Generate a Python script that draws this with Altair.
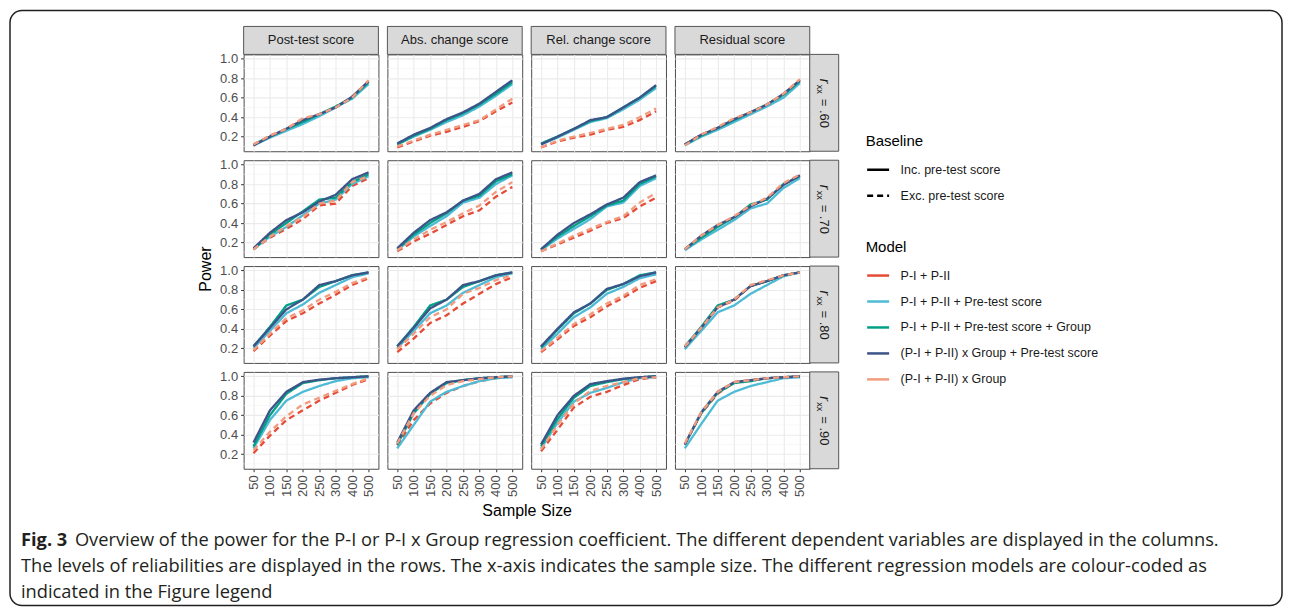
import altair as alt
import pandas as pd

SAMPLE_SIZES = [50, 100, 150, 200, 250, 300, 400, 500]
MODELS = [
    "P-I + P-II",
    "P-I + P-II + Pre-test score",
    "P-I + P-II + Pre-test score + Group",
    "(P-I + P-II) x Group + Pre-test score",
    "(P-I + P-II) x Group",
]
BASELINE_OF_MODEL = [
    "Exc. pre-test score",
    "Inc. pre-test score",
    "Inc. pre-test score",
    "Inc. pre-test score",
    "Exc. pre-test score",
]
BASELINES = ["Inc. pre-test score", "Exc. pre-test score"]
COLORS = ["#E64B35", "#4DBBD5", "#00A087", "#3C5488", "#F39B7F"]
DEPVARS = ["Post-test score", "Abs. change score", "Rel. change score", "Residual score"]
RELIAB = [".60", ".70", ".80", ".90"]
Y_TICKS = [0.2, 0.4, 0.6, 0.8, 1.0]
Y_MINOR = [0.1, 0.3, 0.5, 0.7, 0.9]

# power values, one list per model (order of MODELS), one value per sample size
post_60 = [
    [0.11, 0.21, 0.28, 0.38, 0.42, 0.50, 0.61, 0.77],
    [0.11, 0.19, 0.26, 0.33, 0.41, 0.50, 0.59, 0.74],
    [0.12, 0.20, 0.28, 0.35, 0.43, 0.51, 0.60, 0.76],
    [0.11, 0.20, 0.28, 0.37, 0.43, 0.50, 0.61, 0.77],
    [0.12, 0.21, 0.28, 0.39, 0.43, 0.50, 0.60, 0.78],
]
abs_60 = [
    [0.09, 0.15, 0.21, 0.25, 0.30, 0.36, 0.46, 0.55],
    [0.12, 0.20, 0.27, 0.35, 0.42, 0.51, 0.62, 0.74],
    [0.12, 0.21, 0.28, 0.37, 0.44, 0.53, 0.64, 0.76],
    [0.13, 0.22, 0.29, 0.38, 0.45, 0.54, 0.66, 0.78],
    [0.10, 0.16, 0.22, 0.27, 0.32, 0.37, 0.48, 0.59],
]
rel_60 = [
    [0.09, 0.15, 0.19, 0.22, 0.27, 0.30, 0.37, 0.46],
    [0.12, 0.19, 0.27, 0.35, 0.39, 0.48, 0.58, 0.70],
    [0.13, 0.20, 0.28, 0.36, 0.40, 0.50, 0.60, 0.72],
    [0.12, 0.20, 0.28, 0.37, 0.40, 0.50, 0.60, 0.73],
    [0.09, 0.16, 0.20, 0.24, 0.28, 0.32, 0.40, 0.49],
]
res_60 = [
    [0.12, 0.22, 0.29, 0.38, 0.45, 0.53, 0.63, 0.78],
    [0.11, 0.20, 0.27, 0.35, 0.43, 0.51, 0.60, 0.75],
    [0.12, 0.21, 0.29, 0.37, 0.45, 0.53, 0.63, 0.77],
    [0.12, 0.22, 0.29, 0.38, 0.45, 0.53, 0.64, 0.78],
    [0.11, 0.22, 0.30, 0.39, 0.45, 0.53, 0.64, 0.79],
]
post_70 = [
    [0.13, 0.25, 0.34, 0.44, 0.58, 0.60, 0.78, 0.86],
    [0.13, 0.26, 0.36, 0.48, 0.60, 0.64, 0.80, 0.88],
    [0.13, 0.28, 0.40, 0.52, 0.64, 0.66, 0.82, 0.90],
    [0.14, 0.30, 0.43, 0.51, 0.62, 0.69, 0.85, 0.92],
    [0.13, 0.26, 0.37, 0.46, 0.60, 0.63, 0.82, 0.88],
]
abs_70 = [
    [0.11, 0.21, 0.29, 0.38, 0.47, 0.53, 0.67, 0.77],
    [0.12, 0.26, 0.37, 0.47, 0.61, 0.66, 0.80, 0.89],
    [0.13, 0.28, 0.40, 0.50, 0.63, 0.68, 0.83, 0.90],
    [0.14, 0.30, 0.43, 0.51, 0.63, 0.70, 0.85, 0.92],
    [0.12, 0.23, 0.33, 0.41, 0.50, 0.58, 0.72, 0.82],
]
rel_70 = [
    [0.11, 0.18, 0.25, 0.32, 0.40, 0.45, 0.57, 0.66],
    [0.12, 0.24, 0.34, 0.44, 0.57, 0.61, 0.78, 0.86],
    [0.13, 0.26, 0.37, 0.47, 0.58, 0.63, 0.80, 0.88],
    [0.13, 0.28, 0.40, 0.49, 0.59, 0.66, 0.82, 0.89],
    [0.11, 0.19, 0.27, 0.34, 0.41, 0.47, 0.61, 0.71],
]
res_70 = [
    [0.13, 0.26, 0.37, 0.46, 0.58, 0.65, 0.80, 0.89],
    [0.12, 0.23, 0.33, 0.43, 0.55, 0.60, 0.76, 0.86],
    [0.13, 0.25, 0.36, 0.46, 0.59, 0.64, 0.80, 0.88],
    [0.13, 0.27, 0.38, 0.46, 0.57, 0.65, 0.79, 0.89],
    [0.13, 0.27, 0.38, 0.47, 0.58, 0.66, 0.81, 0.90],
]
post_80 = [
    [0.17, 0.33, 0.48, 0.56, 0.66, 0.75, 0.85, 0.92],
    [0.20, 0.38, 0.56, 0.65, 0.77, 0.85, 0.93, 0.97],
    [0.22, 0.42, 0.64, 0.70, 0.83, 0.89, 0.95, 0.98],
    [0.22, 0.41, 0.60, 0.70, 0.85, 0.89, 0.95, 0.98],
    [0.18, 0.35, 0.51, 0.59, 0.70, 0.78, 0.87, 0.93],
]
abs_80 = [
    [0.16, 0.30, 0.46, 0.54, 0.66, 0.76, 0.86, 0.93],
    [0.20, 0.38, 0.56, 0.64, 0.77, 0.85, 0.93, 0.97],
    [0.22, 0.42, 0.64, 0.70, 0.83, 0.89, 0.95, 0.98],
    [0.22, 0.41, 0.61, 0.70, 0.85, 0.89, 0.95, 0.98],
    [0.19, 0.35, 0.52, 0.60, 0.76, 0.82, 0.90, 0.95],
]
rel_80 = [
    [0.16, 0.29, 0.43, 0.52, 0.63, 0.72, 0.82, 0.89],
    [0.19, 0.35, 0.52, 0.62, 0.76, 0.83, 0.92, 0.96],
    [0.21, 0.39, 0.56, 0.66, 0.80, 0.86, 0.95, 0.98],
    [0.22, 0.40, 0.57, 0.66, 0.81, 0.86, 0.94, 0.98],
    [0.17, 0.31, 0.45, 0.55, 0.66, 0.74, 0.85, 0.91],
]
res_80 = [
    [0.21, 0.41, 0.62, 0.69, 0.84, 0.89, 0.95, 0.98],
    [0.19, 0.38, 0.57, 0.64, 0.76, 0.85, 0.94, 0.98],
    [0.22, 0.42, 0.64, 0.70, 0.84, 0.89, 0.95, 0.98],
    [0.21, 0.41, 0.62, 0.70, 0.84, 0.89, 0.95, 0.98],
    [0.22, 0.41, 0.62, 0.70, 0.85, 0.90, 0.95, 0.98],
]
post_90 = [
    [0.21, 0.39, 0.55, 0.65, 0.75, 0.83, 0.91, 0.97],
    [0.26, 0.55, 0.75, 0.84, 0.90, 0.95, 0.98, 0.99],
    [0.28, 0.60, 0.82, 0.93, 0.96, 0.98, 0.99, 1.00],
    [0.32, 0.65, 0.84, 0.94, 0.965, 0.98, 0.99, 1.00],
    [0.24, 0.43, 0.59, 0.71, 0.78, 0.85, 0.92, 0.98],
]
abs_90 = [
    [0.29, 0.55, 0.72, 0.83, 0.90, 0.95, 0.98, 1.00],
    [0.26, 0.50, 0.74, 0.84, 0.90, 0.95, 0.98, 0.99],
    [0.30, 0.62, 0.82, 0.93, 0.96, 0.98, 0.99, 1.00],
    [0.32, 0.65, 0.83, 0.94, 0.96, 0.98, 0.99, 1.00],
    [0.31, 0.62, 0.80, 0.91, 0.95, 0.97, 0.99, 1.00],
]
rel_90 = [
    [0.23, 0.45, 0.68, 0.79, 0.84, 0.91, 0.97, 0.99],
    [0.26, 0.52, 0.74, 0.83, 0.88, 0.94, 0.98, 0.99],
    [0.28, 0.56, 0.78, 0.90, 0.94, 0.97, 0.99, 1.00],
    [0.30, 0.60, 0.80, 0.92, 0.95, 0.975, 0.99, 1.00],
    [0.25, 0.50, 0.72, 0.85, 0.90, 0.94, 0.98, 0.99],
]
res_90 = [
    [0.30, 0.62, 0.82, 0.94, 0.96, 0.98, 0.99, 1.00],
    [0.26, 0.51, 0.75, 0.84, 0.90, 0.94, 0.98, 0.99],
    [0.30, 0.62, 0.83, 0.93, 0.95, 0.98, 0.99, 1.00],
    [0.30, 0.63, 0.84, 0.94, 0.96, 0.98, 0.99, 1.00],
    [0.31, 0.63, 0.84, 0.94, 0.96, 0.98, 0.99, 1.00],
]

PANELS = [
    [post_60, abs_60, rel_60, res_60],
    [post_70, abs_70, rel_70, res_70],
    [post_80, abs_80, rel_80, res_80],
    [post_90, abs_90, rel_90, res_90],
]

CAPTION_BOLD = "Fig. 3"
CAPTION_LINES = [
    "Overview of the power for the P-I or P-I x Group regression coefficient. The different dependent variables are displayed in the columns.",
    "The levels of reliabilities are displayed in the rows. The x-axis indicates the sample size. The different regression models are colour-coded as",
    "indicated in the Figure legend",
]

FONT = "Liberation Sans"
CAP_FONT = "Open Sans"
W, H = 135, 97
STRIP = 28
STRIP_R = 29

records = []
for ri, rel in enumerate(RELIAB):
    for ci, dv in enumerate(DEPVARS):
        series = PANELS[ri][ci]
        for mi, m in enumerate(MODELS):
            for n, p in zip(SAMPLE_SIZES, series[mi]):
                records.append({"rel": rel, "dv": dv, "model": m,
                                "baseline": BASELINE_OF_MODEL[mi], "n": n, "power": p})
df = pd.DataFrame(records)
minor_df = pd.DataFrame({"power": Y_MINOR})
one = pd.DataFrame({"k": [0]})

legend_common = dict(orient="none", symbolType="stroke", symbolSize=484, symbolStrokeWidth=2.5,
                     rowPadding=7, labelOffset=10, titlePadding=8, labelLimit=400)
color_enc = alt.Color(
    "model:N",
    scale=alt.Scale(domain=MODELS, range=COLORS),
    legend=alt.Legend(title="Model", legendX=623, legendY=186, **legend_common),
)
dash_enc = alt.StrokeDash(
    "baseline:N",
    scale=alt.Scale(domain=BASELINES, range=[[1, 0], [6, 4]]),
    legend=alt.Legend(title="Baseline", legendX=623, legendY=80,
                      symbolStrokeColor="black", **legend_common),
)


def panel(ri, ci):
    sub = df[(df.rel == RELIAB[ri]) & (df.dv == DEPVARS[ci])]
    left = ci == 0
    bottom = ri == 3
    yaxis = alt.Axis(values=Y_TICKS, format=".1f", labels=left, ticks=left,
                     domain=False, grid=True, title=None, labelPadding=3)
    xaxis = alt.Axis(labels=bottom, ticks=bottom, domain=False, grid=True,
                     title=None, labelAngle=270, labelPadding=3)
    yenc = alt.Y("power:Q", scale=alt.Scale(domain=[0.05, 1.045], nice=False, zero=False),
                 axis=yaxis)
    xenc = alt.X("n:O", scale=alt.Scale(type="point", padding=0.6), axis=xaxis)

    layers = [
        alt.Chart(minor_df).mark_rule(color="#F1F1F1", strokeWidth=0.6).encode(
            y=yenc, x=alt.value(0), x2=alt.value(W))
    ]
    for m in MODELS:
        layers.append(
            alt.Chart(sub).transform_filter(alt.datum.model == m)
            .mark_line(strokeWidth=2.3)
            .encode(x=xenc, y=yenc, color=color_enc, strokeDash=dash_enc)
        )
    if ri == 0:
        lab = pd.DataFrame({"label": [DEPVARS[ci]]})
        layers.append(alt.Chart(lab).mark_rect(fill="#D9D9D9", stroke="#555555", strokeWidth=1)
                      .encode(x=alt.value(0), x2=alt.value(W), y=alt.value(-STRIP), y2=alt.value(0)))
        layers.append(alt.Chart(lab).mark_text(font=FONT, fontSize=13, color="#1A1A1A")
                      .encode(x=alt.value(W / 2), y=alt.value(-STRIP / 2), text="label:N"))
    if ci == 3:
        lab = pd.DataFrame({"r": ["r"], "sub": ["xx"], "rest": ["= " + RELIAB[ri]]})
        layers.append(alt.Chart(lab).mark_rect(fill="#D9D9D9", stroke="#555555", strokeWidth=1)
                      .encode(x=alt.value(W), x2=alt.value(W + STRIP_R), y=alt.value(0), y2=alt.value(H)))
        layers.append(alt.Chart(lab).mark_text(font=FONT, fontSize=14, fontStyle="italic",
                                               color="#1A1A1A", angle=90, align="left",
                                               baseline="alphabetic")
                      .encode(x=alt.value(W + 10), y=alt.value(H / 2 - 24), text="r:N"))
        layers.append(alt.Chart(lab).mark_text(font=FONT, fontSize=9, color="#1A1A1A",
                                               angle=90, align="left", baseline="alphabetic")
                      .encode(x=alt.value(W + 7), y=alt.value(H / 2 - 18), text="sub:N"))
        layers.append(alt.Chart(lab).mark_text(font=FONT, fontSize=13, color="#1A1A1A",
                                               angle=90, align="left", baseline="alphabetic")
                      .encode(x=alt.value(W + 10), y=alt.value(H / 2 - 4), text="rest:N"))
    if ri == 0 and ci == 0:
        txt = pd.DataFrame({"power": ["Power"], "ss": ["Sample Size"], "bold": [CAPTION_BOLD],
                            "l1": [CAPTION_LINES[0]], "l2": [CAPTION_LINES[1]],
                            "l3": [CAPTION_LINES[2]]})
        layers.append(alt.Chart(txt).mark_text(font=FONT, fontSize=16, color="#000000",
                                               angle=270, baseline="middle")
                      .encode(x=alt.value(-38), y=alt.value(215), text="power:N"))
        layers.append(alt.Chart(txt).mark_text(font=FONT, fontSize=16, color="#000000",
                                               baseline="middle")
                      .encode(x=alt.value(284), y=alt.value(457), text="ss:N"))
        cap = dict(font=CAP_FONT, fontSize=18.3, color="#231F20", align="left", baseline="middle")
        layers.append(alt.Chart(txt).mark_text(fontWeight="bold", **cap)
                      .encode(x=alt.value(-223), y=alt.value(487), text="bold:N"))
        layers.append(alt.Chart(txt).mark_text(**cap)
                      .encode(x=alt.value(-169), y=alt.value(487), text="l1:N"))
        layers.append(alt.Chart(txt).mark_text(**cap)
                      .encode(x=alt.value(-223), y=alt.value(513), text="l2:N"))
        layers.append(alt.Chart(txt).mark_text(**cap)
                      .encode(x=alt.value(-223), y=alt.value(539), text="l3:N"))
        layers.append(alt.Chart(one).mark_rect(filled=False, stroke="#231F20", strokeWidth=1.5,
                                               cornerRadius=12)
                      .encode(x=alt.value(-234), x2=alt.value(1040),
                              y=alt.value(-44), y2=alt.value(552)))
    return alt.layer(*layers).properties(width=W, height=H)


panels = [panel(ri, ci) for ri in range(4) for ci in range(4)]
chart = (
    alt.concat(*panels, columns=4, spacing=9, bounds="flush")
    .resolve_scale(color="shared", strokeDash="shared")
    .properties(padding=0, background="white")
    .configure_view(stroke="#4D4D4D", strokeWidth=1, fill="white")
    .configure_axis(labelFont=FONT, labelFontSize=13, labelColor="#4D4D4D",
                    tickColor="#333333", tickSize=3, tickWidth=1,
                    gridColor="#EBEBEB", gridWidth=1.1)
    .configure_legend(labelFont=FONT, titleFont=FONT, labelFontSize=12.5, titleFontSize=15,
                      titleFontWeight="normal", labelColor="#1A1A1A", titleColor="#000000")
)
chart.save("out.html", embed_options={"renderer": "svg", "actions": False})
